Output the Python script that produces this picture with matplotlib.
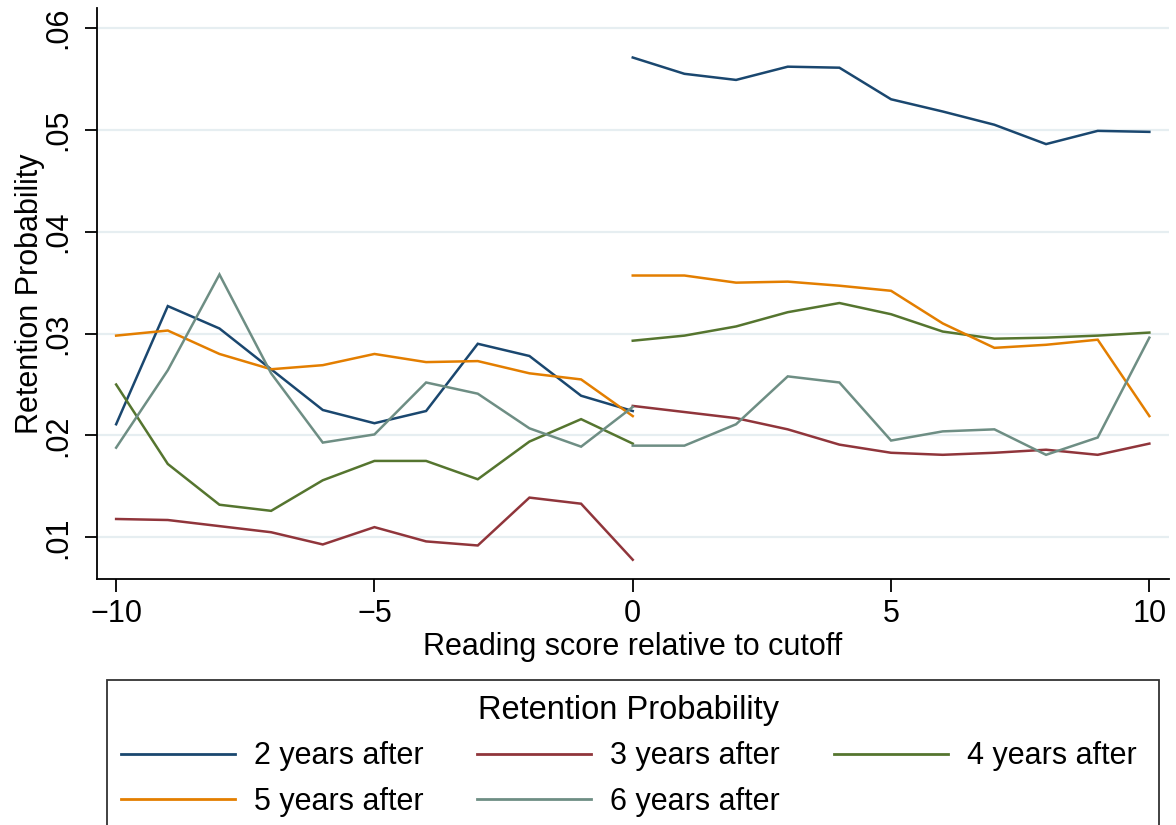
import matplotlib
matplotlib.use("Agg")
import matplotlib.pyplot as plt
from matplotlib.patches import Rectangle
from matplotlib.lines import Line2D

plt.rcParams['font.family'] = ['Liberation Sans', 'DejaVu Sans']

x_left = list(range(-10, 1))
x_right = list(range(0, 11))

y2_left = [0.0211, 0.0327, 0.0305, 0.0265, 0.0225, 0.0212, 0.0224, 0.0290, 0.0278, 0.0239, 0.0224]
y2_right = [0.0571, 0.0555, 0.0549, 0.0562, 0.0561, 0.0530, 0.0518, 0.0505, 0.0486, 0.0499, 0.0498]
y3_left = [0.0118, 0.0117, 0.0111, 0.0105, 0.0093, 0.0110, 0.0096, 0.0092, 0.0139, 0.0133, 0.0078]
y3_right = [0.0229, 0.0223, 0.0217, 0.0206, 0.0191, 0.0183, 0.0181, 0.0183, 0.0186, 0.0181, 0.0192]
y4_left = [0.0250, 0.0172, 0.0132, 0.0126, 0.0156, 0.0175, 0.0175, 0.0157, 0.0194, 0.0216, 0.0192]
y4_right = [0.0293, 0.0298, 0.0307, 0.0321, 0.0330, 0.0319, 0.0302, 0.0295, 0.0296, 0.0298, 0.0301]
y5_left = [0.0298, 0.0303, 0.0280, 0.0265, 0.0269, 0.0280, 0.0272, 0.0273, 0.0261, 0.0255, 0.0219]
y5_right = [0.0357, 0.0357, 0.0350, 0.0351, 0.0347, 0.0342, 0.0310, 0.0286, 0.0289, 0.0294, 0.0219]
y6_left = [0.0188, 0.0264, 0.0358, 0.0261, 0.0193, 0.0201, 0.0252, 0.0241, 0.0207, 0.0189, 0.0228]
y6_right = [0.0190, 0.0190, 0.0211, 0.0258, 0.0252, 0.0195, 0.0204, 0.0206, 0.0181, 0.0198, 0.0296]

labels = ["2 years after", "3 years after", "4 years after", "5 years after", "6 years after"]
colors = ["#1A476F", "#90353B", "#55752F", "#E37E00", "#6E8E84"]
lefts = [y2_left, y3_left, y4_left, y5_left, y6_left]
rights = [y2_right, y3_right, y4_right, y5_right, y6_right]

yticks = [0.01, 0.02, 0.03, 0.04, 0.05, 0.06]
ytick_labels = [".01", ".02", ".03", ".04", ".05", ".06"]
xticks = [-10, -5, 0, 5, 10]
xtick_labels = ["\u221210", "\u22125", "0", "5", "10"]

FS = 22
W, H = 1176, 825
fig = plt.figure(figsize=(W / 100, H / 100), dpi=100)
ax_l, ax_r, ax_t, ax_b = 96.5, 1169, 8, 579.3
ax = fig.add_axes([ax_l / W, 1 - ax_b / H, (ax_r - ax_l) / W, (ax_b - ax_t) / H])

handles = []
for yl, yr, c, lab in zip(lefts, rights, colors, labels):
    ax.plot(x_left, yl, color=c, lw=1.8, solid_joinstyle='miter')
    ax.plot(x_right, yr, color=c, lw=1.8, solid_joinstyle='miter')
    handles.append(Line2D([], [], color=c, lw=2.0, label=lab))

ax.set_xlim(-10.38, 10.38)
ax.set_ylim(0.00588, 0.06196)
ax.set_yticks(yticks)
ax.set_yticklabels(ytick_labels)
ax.set_xticks(xticks)
ax.set_xticklabels(xtick_labels)
ax.grid(axis='y', color='#E6EEF1', lw=1.6)
ax.set_axisbelow(True)
for s in ['top', 'right']:
    ax.spines[s].set_visible(False)
for s in ['left', 'bottom']:
    ax.spines[s].set_linewidth(1.3)
ax.tick_params(axis='both', length=9, width=1.3, labelsize=FS, direction='out')
ax.tick_params(axis='y', pad=8, labelrotation=90)
ax.tick_params(axis='x', pad=5)
for t in ax.get_yticklabels():
    t.set_va('center')
ax.set_xlabel("Reading score relative to cutoff", fontsize=FS, labelpad=2)
ax.set_ylabel("Retention Probability", fontsize=FS, labelpad=-1.5)

# legend box
fig.patches.append(Rectangle((107 / W, -0.05), (1159 - 107) / W, (0.05 + 1 - 680 / H),
                             transform=fig.transFigure, fill=False, edgecolor='#333333', lw=1.3))
order = [0, 3, 1, 4, 2]
leg = fig.legend([handles[i] for i in order], [labels[i] for i in order],
                 ncol=3, loc='upper left', bbox_to_anchor=(121 / W, 1 - 695 / H),
                 frameon=False, fontsize=FS, title="Retention Probability", title_fontsize=23.5,
                 handlelength=3.73, handletextpad=0.62, columnspacing=1.76, labelspacing=0.5,
                 borderpad=0.0, borderaxespad=0.0)
fig.savefig("out.png", dpi=100, facecolor='white')
